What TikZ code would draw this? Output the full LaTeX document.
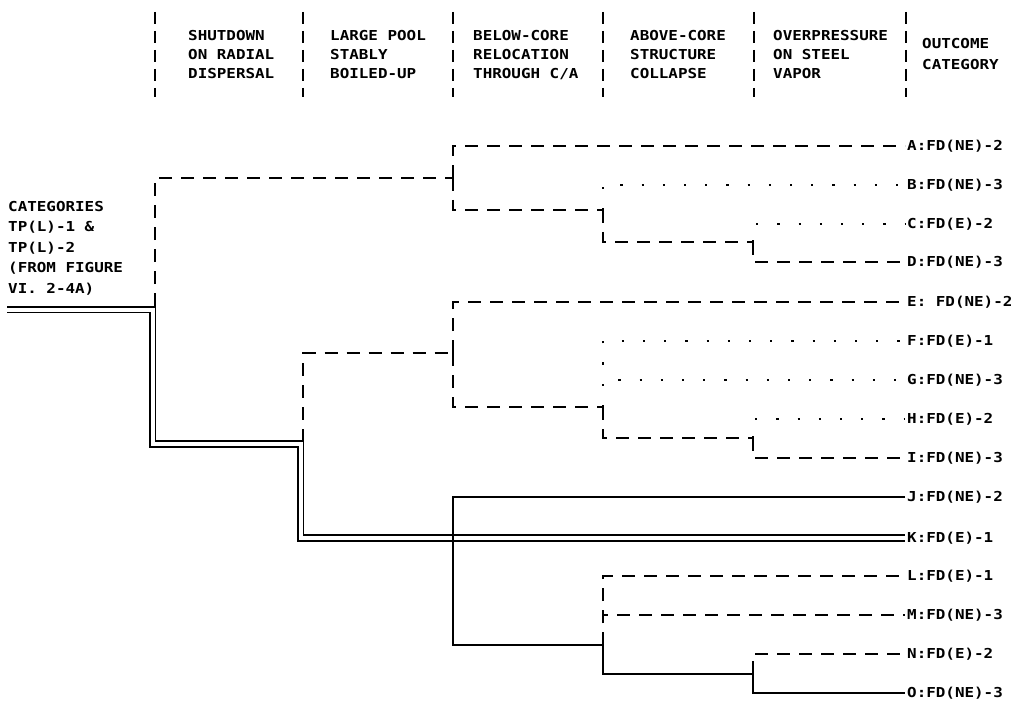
\documentclass[tikz,border=0pt]{standalone}
\usepackage{fontspec}
\newfontfamily\tw[FakeStretch=1.16]{DejaVu Sans Mono}
\begin{document}
\begin{tikzpicture}[x=1pt,y=-1pt,
  tline/.style={line width=1.6pt},
  dsh/.style={line width=1.6pt, dash pattern=on 13pt off 9pt},
  dots/.style={line width=2.4pt, dash pattern=on 2.2pt off 19pt},
  dbl/.style={double, double distance=4pt, line width=1.8pt},
  colsep/.style={line width=2.2pt, dash pattern=on 12pt off 7pt},
  lab/.style={font=\tw\bfseries\fontsize{13.7}{16}\selectfont, anchor=west, inner sep=2pt},
  hdr/.style={font=\tw\bfseries\fontsize{13.7}{19}\selectfont, align=left, anchor=north west, inner sep=0pt}]
\useasboundingbox (0,0) rectangle (1021,706);

% column separators
\foreach \x in {155,303,453,603,754,906}
  \draw[colsep] (\x,12) -- (\x,97);

% header texts
\node[hdr] (h1) at (188,30) {SHUTDOWN\\ON RADIAL\\DISPERSAL};
\node[hdr] (h2) at (330,30) {LARGE POOL\\STABLY\\BOILED-UP};
\node[hdr] (h3) at (473,30) {BELOW-CORE\\RELOCATION\\THROUGH C/A};
\node[hdr] (h4) at (630,30) {ABOVE-CORE\\STRUCTURE\\COLLAPSE};
\node[hdr] (h5) at (773,30) {OVERPRESSURE\\ON STEEL\\VAPOR};
\node[hdr, font=\tw\bfseries\fontsize{13.7}{21}\selectfont] (h6) at (922,38) {OUTCOME\\CATEGORY};

% entry text
\node[hdr, font=\tw\bfseries\fontsize{13.7}{20.5}\selectfont] (entry) at (8,201)
  {CATEGORIES\\TP(L)-1 \&\\TP(L)-2\\(FROM FIGURE\\VI. 2-4A)};

% outcome labels
\node[lab] (A) at (905,146) {A:FD(NE)-2};
\node[lab] (B) at (905,185) {B:FD(NE)-3};
\node[lab] (C) at (905,224) {C:FD(E)-2};
\node[lab] (D) at (905,262) {D:FD(NE)-3};
\node[lab] (E) at (905,302) {E: FD(NE)-2};
\node[lab] (F) at (905,341) {F:FD(E)-1};
\node[lab] (G) at (905,380) {G:FD(NE)-3};
\node[lab] (H) at (905,419) {H:FD(E)-2};
\node[lab] (I) at (905,458) {I:FD(NE)-3};
\node[lab] (J) at (905,497) {J:FD(NE)-2};
\node[lab] (K) at (905,538) {K:FD(E)-1};
\node[lab] (L) at (905,576) {L:FD(E)-1};
\node[lab] (M) at (905,615) {M:FD(NE)-3};
\node[lab] (N) at (905,654) {N:FD(E)-2};
\node[lab] (O) at (905,693) {O:FD(NE)-3};

% junction coordinates
\coordinate (e0) at (7,309.5);
\coordinate (d1) at (155,306);
\coordinate (s1) at (453,178);
\coordinate (s2) at (603,210);
\coordinate (s3) at (753,242);
\coordinate (d2) at (303,441.5);
\coordinate (t1) at (453,353);
\coordinate (t2) at (603,407);
\coordinate (t3) at (753,438);
\coordinate (u0) at (453,645);
\coordinate (u1) at (603,645);
\coordinate (u2) at (753,674);

% main double path
\draw[dbl] (e0) -- (152.5,309.5) -- (152.5,444) -- (300.5,444) -- (300.5,538) -- (K.west);

% group A-D
\draw[dsh] (d1) |- (s1);
\draw[dsh] (s1) |- (A.west);
\draw[dsh] (s1) |- (s2);
\draw[dots] (s2) |- (B.west);
\draw[dsh] (s2) |- (s3);
\draw[dots] (s3) |- (C.west);
\draw[dsh] (s3) |- (D.west);

% group E-I
\draw[dsh] (d2) |- (t1);
\draw[dsh] (t1) |- (E.west);
\draw[dsh] (t1) |- (t2);
\draw[dots] (t2) |- (F.west);
\draw[dots] (t2) |- (G.west);
\draw[dsh] (t2) |- (t3);
\draw[dots] (t3) |- (H.west);
\draw[dsh] (t3) |- (I.west);

% group J, L-O
\draw[tline] (J.west) -| (u0) -- (u1);
\draw[dsh] (u1) |- (L.west);
\draw[dsh] (u1) |- (M.west);
\draw[tline] (u1) |- (u2);
\draw[dsh] (u2) |- (N.west);
\draw[tline] (u2) |- (O.west);
\end{tikzpicture}
\end{document}
